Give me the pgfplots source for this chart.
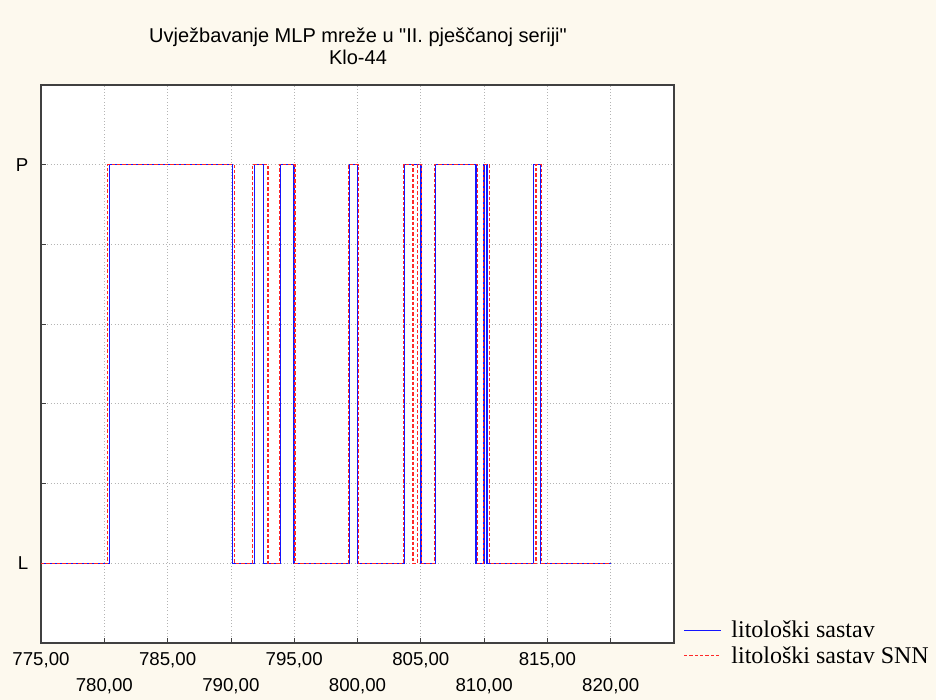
\documentclass[border=0pt]{standalone}
\usepackage{pgfplots}
\pgfplotsset{compat=1.18}
\usetikzlibrary{calc}
\usepackage{fontspec}
\setmainfont{Liberation Sans}
\newfontfamily\titlefont{Liberation Sans}[Ligatures=TeXOff]
\newfontfamily\seriffont{Liberation Serif}
\definecolor{bgcream}{HTML}{FDF9EE}
\definecolor{axgray}{HTML}{404040}
\definecolor{gridgray}{HTML}{B4B4B4}
\pgfdeclarelayer{background}
\pgfsetlayers{background,main}
\begin{document}
\begin{tikzpicture}
\begin{axis}[
  name=ax,
  scale only axis, width=474.75pt, height=418.5pt,
  xmin=775, xmax=825, ymin=-0.2, ymax=1.2,
  axis background/.style={fill=white},
  axis line style={axgray, line width=0.8pt},
  tick style={axgray, line width=0.6pt},
  major tick length=4pt,
  tick align=inside,
  xtick pos=left, ytick pos=left,
  grid=major,
  grid style={gridgray, dotted, line width=0.6pt},
  xtick={775,785,795,805,815},
  xticklabels={{775,00},{785,00},{795,00},{805,00},{815,00}},
  extra x ticks={780,790,800,810,820},
  extra x tick labels={{780,00},{790,00},{800,00},{810,00},{820,00}},
  extra x tick style={grid=major, xticklabel style={yshift=-19.5pt}},
  xticklabel style={yshift=-3.5pt},
  ytick={0,0.2,0.4,0.6,0.8,1},
  yticklabels={L,,,,,P},
  yticklabel style={xshift=-6pt},
  tick label style={font=\fontsize{14}{16}\selectfont},
  legend style={at={(1.008,0.0)}, anchor=west, draw=none, fill=none,
    font=\seriffont\fontsize{18}{19}\selectfont, row sep=1pt},
  legend cell align=left,
  legend image code/.code={\draw[#1, line width=1.2pt] (0pt,0pt) -- (28pt,0pt); \path (33pt,0pt);},
]
\addplot[draw={rgb,255:red,20;green,20;blue,255}, line width=1pt] coordinates {
 (775,0) (780.39,0) (780.39,1) (790.11,1) (790.11,0)
 (791.86,0) (791.86,1) (792.58,1) (792.58,0)
 (793.90,0) (793.90,1) (794.98,1) (794.98,0)
 (799.35,0) (799.35,1) (799.98,1) (799.98,0)
 (803.73,0) (803.73,1) (805.02,1) (805.02,0)
 (806.16,0) (806.16,1) (809.36,1) (809.36,0)
 (809.99,0) (809.99,1) (810.23,1) (810.23,0)
 (813.92,0) (813.92,1) (814.45,1) (814.45,0)
 (820,0)
};
\addlegendentry{litološki sastav}
\addplot[draw={rgb,255:red,255;green,40;blue,40}, line width=1pt, dash pattern=on 2.5pt off 1.5pt] coordinates {
 (775,0) (780.27,0) (780.27,1) (790.27,1) (790.27,0)
 (791.69,0) (791.69,1) (792.93,1) (792.93,0)
 (793.82,0) (793.82,1) (795.06,1) (795.06,0)
 (799.27,0) (799.27,1) (800.06,1) (800.06,0)
 (803.65,0) (803.65,1) (804.38,1) (804.38,0)
 (804.72,0) (804.72,1) (805.06,1) (805.06,0)
 (806.07,0) (806.07,1) (809.46,1) (809.46,0)
 (809.94,0) (809.94,1) (810.41,1) (810.41,0)
 (814.10,0) (814.10,1) (814.53,1) (814.53,0)
 (820,0)
};
\addlegendentry{litološki sastav SNN}
\coordinate (bl) at (rel axis cs:0,0);
\end{axis}
\node[align=center, font=\titlefont\fontsize{15}{16.5}\selectfont] at ($(bl)+(237.75pt,447.75pt)$) {Uvježbavanje MLP mreže u "II. pješčanoj seriji"\\Klo-44};
\begin{pgfonlayer}{background}
\fill[bgcream] ($(bl)+(-30.75pt,-42.75pt)$) rectangle ($(bl)+(671.25pt,482.25pt)$);
\end{pgfonlayer}
\pgfresetboundingbox
\path[use as bounding box] ($(bl)+(-30.75pt,-42.75pt)$) rectangle ($(bl)+(671.25pt,482.25pt)$);
\end{tikzpicture}
\end{document}
